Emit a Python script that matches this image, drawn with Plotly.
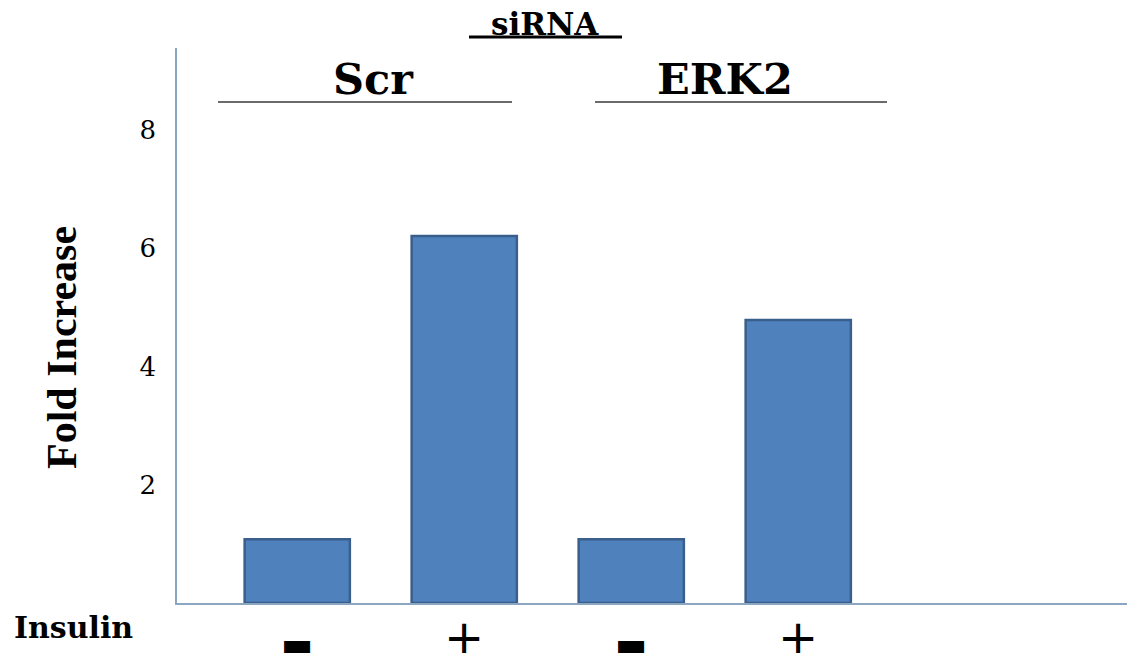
import plotly.graph_objects as go

# ---- data ----
conditions = ["Scr -", "Scr +", "ERK2 -", "ERK2 +"]
fold_increase = [1.08, 6.21, 1.08, 4.79]
insulin_signs = ["▬", "+", "▬", "+"]
y_ticks = [2, 4, 6, 8]
groups = ["Scr", "ERK2"]

OFF = 8  # default page body margin
W, H = 1135 - OFF, 653 - OFF
# reference plot area: x 177..right edge, y 48..603
L, T = 177 - OFF, 48 - OFF
R = 0
PW = W - L - R
PH = 603 - 48
B = H - T - PH

def px(xp):
    return (xp - 177) / PW

def py(yp):
    return (603 - yp) / PH

xs = list(range(len(conditions)))
cat_px = 167.0
x_left = -0.72
x_right = x_left + PW / cat_px

fig = go.Figure()
fig.add_trace(go.Bar(
    x=xs, y=fold_increase, width=0.63,
    marker=dict(color="#4F81BD", line=dict(color="#3A5F8C", width=2.5)),
    hoverinfo="y", showlegend=False,
))

def ann(**kw):
    d = dict(showarrow=False, xanchor="center", yanchor="middle")
    d.update(kw)
    return d

annotations = []
for xi, s in zip(xs, insulin_signs):
    if s == "+":
        annotations.append(ann(x=xi, xref="x", y=py(637), yref="paper", text=s,
                               font=dict(family="DejaVu Sans", size=48, color="black")))
    else:
        annotations.append(ann(x=xi, xref="x", y=py(644), yref="paper", text=s,
                               font=dict(family="DejaVu Sans", size=34, color="black")))

annotations.append(ann(x=px(73), y=py(627), xref="paper", yref="paper", text="<b>Insulin</b>",
                       font=dict(family="DejaVu Serif", size=30, color="black")))
annotations.append(ann(x=px(62), y=py(348), xref="paper", yref="paper", text="<b>Fold Increase</b>",
                       textangle=-90,
                       font=dict(family="Liberation Serif", size=42, color="black")))
annotations.append(ann(x=px(545), y=py(24), xref="paper", yref="paper", text="<b>siRNA</b>",
                       font=dict(family="DejaVu Serif", size=31, color="black")))
group_centers = [373, 725]
for g, c in zip(groups, group_centers):
    annotations.append(ann(x=px(c), y=py(79), xref="paper", yref="paper", text=f"<b>{g}</b>",
                           font=dict(family="DejaVu Serif", size=43, color="black")))

shapes = [
    dict(type="line", xref="paper", yref="paper", x0=px(469), x1=px(622), y0=py(37), y1=py(37),
         line=dict(color="black", width=3)),
    dict(type="line", xref="paper", yref="paper", x0=px(218), x1=px(512), y0=py(102), y1=py(102),
         line=dict(color="#6b6b6b", width=2)),
    dict(type="line", xref="paper", yref="paper", x0=px(595), x1=px(887), y0=py(102), y1=py(102),
         line=dict(color="#6b6b6b", width=2)),
]

fig.update_layout(
    width=W, height=H,
    margin=dict(l=L, r=R, t=T, b=B, pad=0),
    paper_bgcolor="white", plot_bgcolor="white",
    annotations=annotations, shapes=shapes,
    xaxis=dict(range=[x_left, x_right], showticklabels=False, ticks="", showgrid=False, zeroline=False,
               showline=True, linecolor="#8AA6C1", linewidth=1.5),
    yaxis=dict(range=[0, 9.39], tickvals=y_ticks, ticktext=[str(v) for v in y_ticks],
               showgrid=False, zeroline=False, showline=True, linecolor="#8AA6C1", linewidth=1.5,
               ticks="", ticklabelstandoff=14,
               tickfont=dict(family="DejaVu Serif", size=26, color="black")),
)

fig.write_html("out.html")
